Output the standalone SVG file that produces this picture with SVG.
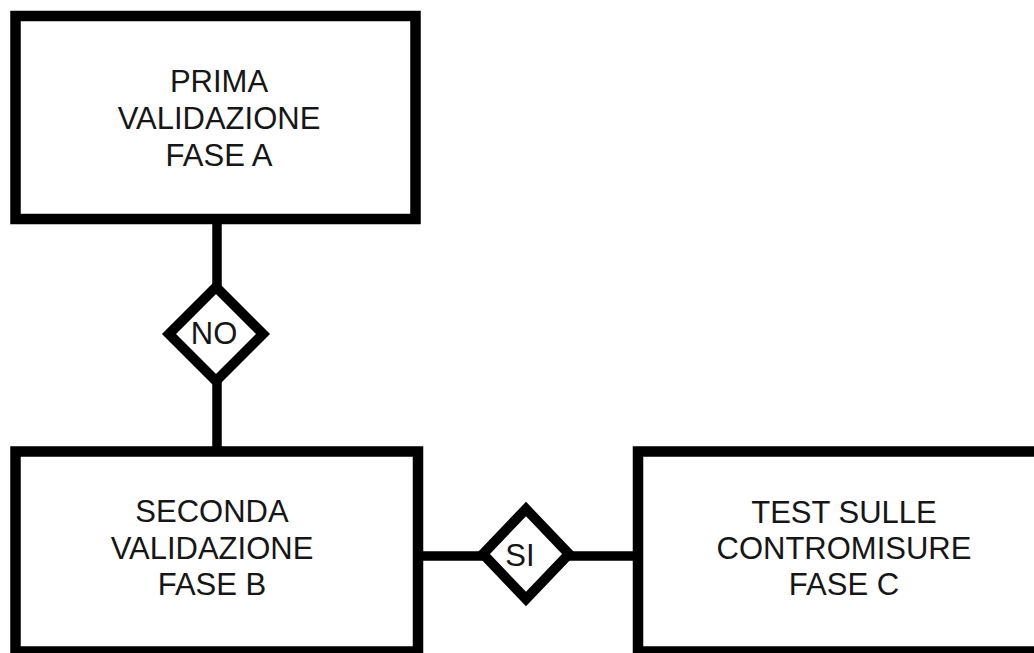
<svg xmlns="http://www.w3.org/2000/svg" width="1034" height="653" viewBox="0 0 1034 653">
<style>
.box{fill:#fff;stroke:#000;stroke-width:10.5}
.dia{fill:#fff;stroke:#000;stroke-width:10}
.ln{stroke:#000;stroke-width:9.5;fill:none}
text{font-family:"Liberation Sans",Arial,sans-serif;font-size:31px;fill:#161616;text-anchor:middle}
</style>
<rect width="1034" height="653" fill="#fff"/>
<g id="connectors">
<line class="ln" x1="217" y1="219" x2="217" y2="452"/>
<line class="ln" x1="418" y1="556" x2="638" y2="556"/>
</g>
<g id="nodeA">
<rect class="box" x="15.5" y="16" width="400" height="203"/>
<text x="219" y="92">PRIMA</text>
<text x="219" y="129">VALIDAZIONE</text>
<text x="219" y="166">FASE A</text>
</g>
<g id="nodeB">
<rect class="box" x="15.5" y="451.5" width="402.5" height="200"/>
<text x="212" y="522">SECONDA</text>
<text x="212" y="559">VALIDAZIONE</text>
<text x="212" y="595">FASE B</text>
</g>
<g id="nodeC">
<rect class="box" x="638" y="451.5" width="410" height="200"/>
<text x="844" y="523">TEST SULLE</text>
<text x="844" y="559">CONTROMISURE</text>
<text x="844" y="595">FASE C</text>
</g>
<g id="decisionNO">
<polygon class="dia" points="216,287 263,334 216,381 169,334"/>
<text x="214" y="344">NO</text>
</g>
<g id="decisionSI">
<polygon class="dia" points="526,509 569,554 526,599 483,554"/>
<text x="520" y="566">SI</text>
</g>
</svg>
